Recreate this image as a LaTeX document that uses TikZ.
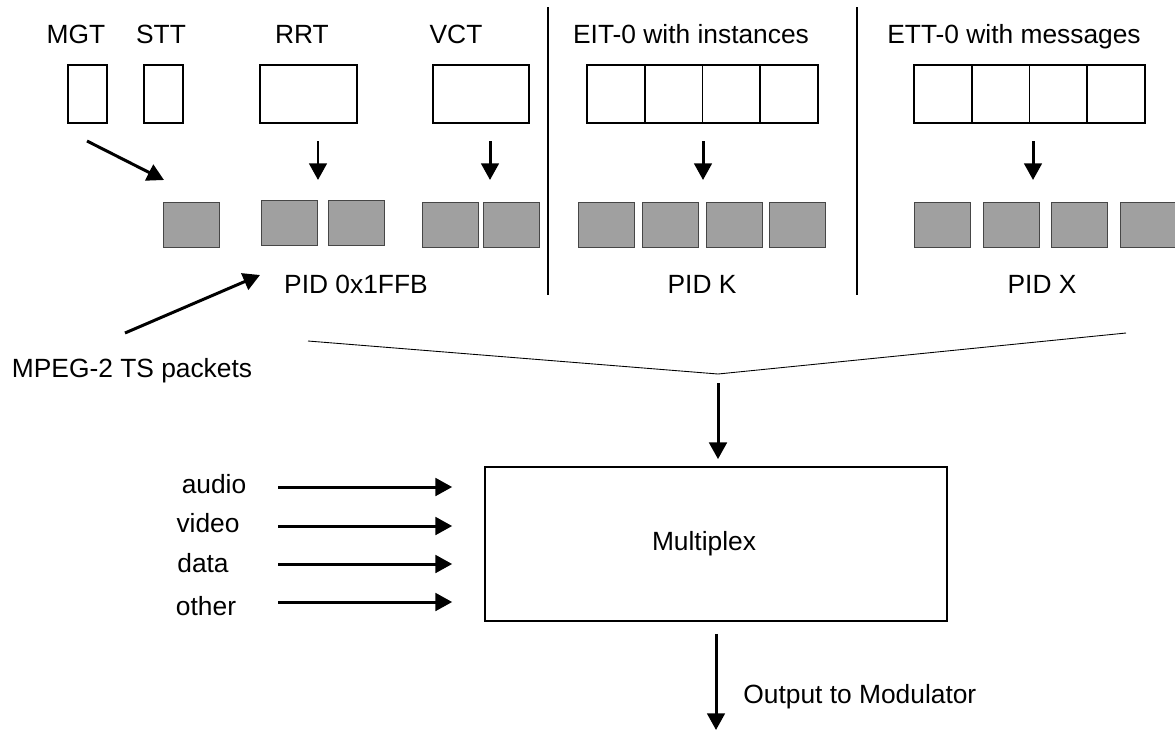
\documentclass[tikz,border=0pt]{standalone}
\usepackage{fontspec}
\setmainfont{Liberation Sans}
\usetikzlibrary{arrows.meta}
\definecolor{pktgray}{RGB}{160,160,160}
\definecolor{pktedge}{RGB}{70,70,70}
\tikzset{
  lbl/.style={anchor=base, inner sep=0pt, font=\fontsize{15}{18}\selectfont},
  tbl/.style={draw, line width=1pt, inner sep=0pt, outer sep=0pt, minimum height=1.16cm},
  cell/.style={tbl, minimum width=1.155cm},
  pkt/.style={draw=pktedge, fill=pktgray, line width=0.5pt, inner sep=0pt, outer sep=0pt,
    minimum width=1.12cm, minimum height=0.9cm},
  arr/.style={line width=1.7pt, -{Triangle[width=10pt,length=9.5pt]}},
  sep/.style={line width=1pt}
}
\begin{document}
\begin{tikzpicture}[x=0.02cm, y=-0.02cm]
\useasboundingbox (0,0) rectangle (1175,731);

% Table names
\node[lbl] (mgtl) at (76,43) {MGT};
\node[lbl] (sttl) at (161,43) {STT};
\node[lbl] (rrtl) at (302,43) {RRT};
\node[lbl] (vctl) at (456,43) {VCT};
\node[lbl] (eitl) at (691,43) {EIT-0 with instances};
\node[lbl] (ettl) at (1014,43) {ETT-0 with messages};

% Tables
\node[tbl, minimum width=0.78cm] (mgt) at (87.5,94) {};
\node[tbl, minimum width=0.78cm] (stt) at (163.5,94) {};
\node[tbl, minimum width=1.94cm] (rrt) at (308.5,94) {};
\node[tbl, minimum width=1.92cm] (vct) at (481,94) {};
\foreach \i in {0,...,3} {
  \node[cell] (eit\i) at ({615.9+57.75*\i},94) {};
  \node[cell] (ett\i) at ({942.9+57.75*\i},94) {};
}

% Section separators
\coordinate (s1t) at (548,7);
\coordinate (s1b) at (548,295);
\coordinate (s2t) at (857,7);
\coordinate (s2b) at (857,295);
\draw[sep] (s1t) -- (s1b);
\draw[sep] (s2t) -- (s2b);

% Transport packets
\node[pkt] (mgtp) at (191.5,224.5) {};
\node[pkt] (rrtp1) at (289,222.5) {};
\node[pkt] (rrtp2) at (356.5,222.5) {};
\node[pkt] (vctp1) at (450,224.5) {};
\node[pkt] (vctp2) at (511,224.5) {};
\foreach \x [count=\i] in {606.5,670,734,797}
  \node[pkt] (eitp\i) at (\x,224.5) {};
\foreach \x [count=\i] in {942,1011,1079.5,1148}
  \node[pkt] (ettp\i) at (\x,224.5) {};

% Packetising arrows
\coordinate (mgta) at (87,141);
\coordinate (mgtb) at (164,180);
\draw[arr] (mgta) -- (mgtb);
\foreach \n/\x in {rrt/318, vct/490, eit/703, ett/1033} {
  \coordinate (\n a) at (\x,141);
  \coordinate (\n b) at (\x,180);
  \draw[arr] (\n a) -- (\n b);
}

% PID labels
\node[lbl] (pidb) at (356,293) {PID 0x1FFB};
\node[lbl] (pidk) at (702,293) {PID K};
\node[lbl] (pidx) at (1042,293) {PID X};

\coordinate (tsa) at (125,333);
\coordinate (tsb) at (260,275);
\draw[arr] (tsa) -- (tsb);
\node[lbl] (tsl) at (132,377) {MPEG-2 TS packets};

% Funnel into the multiplexer
\coordinate (fl) at (308,341);
\coordinate (fv) at (718,374);
\coordinate (fr) at (1126,333);
\draw[line width=0.5pt] (fl) -- (fv) -- (fr);

\node[draw, line width=1pt, inner sep=0pt, minimum width=9.24cm, minimum height=3.08cm]
  (mux) at (716,544) {};
\node[lbl] (muxl) at (704,550) {Multiplex};
\draw[arr, shorten <=0.18cm, shorten >=0.14cm] (fv) -- (fv |- mux.north);

% Elementary streams
\foreach \t/\lx/\ly/\y [count=\i] in {audio/214/493/487, video/208/532/526,
    data/203/572/564, other/206/615/602} {
  \node[lbl] (\t) at (\lx,\ly) {\t};
  \coordinate (in\i) at (278,\y);
  \draw[arr, shorten >=0.64cm] (in\i) -- (in\i -| mux.west);
}

% Output
\coordinate (out) at (716,730);
\draw[arr, shorten <=0.24cm] (mux.south) -- (out);
\node[lbl, anchor=base west] (outl) at (743,703) {Output to Modulator};
\end{tikzpicture}
\end{document}
